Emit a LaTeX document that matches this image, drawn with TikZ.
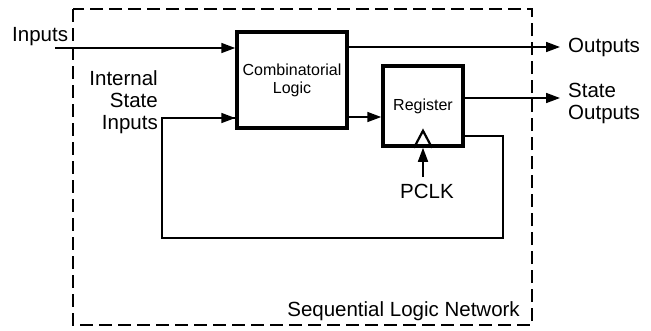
\documentclass[tikz,border=0pt]{standalone}
\usepackage{fontspec}
\setmainfont{Liberation Sans}
\usetikzlibrary{arrows.meta}
\begin{document}
\begin{tikzpicture}[x=1pt,y=-1pt,
  blk/.style={draw, line width=3.5pt, minimum width=#1, inner sep=0pt},
  wire/.style={line width=1.6pt},
  arr/.style={wire, -{Triangle[length=14pt,width=10pt]}},
  big/.style={font=\fontsize{20.5}{22}\selectfont, inner sep=0pt},
  small/.style={font=\fontsize{16}{17}\selectfont, inner sep=0pt}]
\useasboundingbox (0,0) rectangle (651,330);
% dashed frame
\draw[line width=1.6pt, dash pattern=on 13pt off 6pt] (73,9) rectangle (532,325);
% blocks
\node[blk=110pt, minimum height=96pt, align=center, small] (cl) at (292,80) {Combinatorial\\[1pt]Logic};
\node[blk=80pt, minimum height=80pt, small] (reg) at (423,106) {Register};
\draw[line width=2.2pt, line join=miter] ([xshift=-9pt]reg.south) -- ([yshift=17pt]reg.south) -- ([xshift=9pt]reg.south);
% texts
\node[big, anchor=west] (in) at (12,37) {Inputs};
\node[big, anchor=east, align=right] (isi) at (158,102) {Internal\\State\\Inputs};
\node[big, anchor=west] (out) at (568,47) {Outputs};
\node[big, anchor=west, align=left] (sout) at (568,103) {State\\Outputs};
\node[big] (pclk) at (427,191) {PCLK};
\node[big, anchor=east] (sln) at (520,311) {Sequential Logic Network};
% coordinates
\coordinate (inS) at (55,48);
\coordinate (outE) at (560,47);
\coordinate (soutE) at (560,98);
\coordinate (fb1) at (503,136);
\coordinate (fb2) at (503,238);
\coordinate (fb3) at (162,238);
\coordinate (fb4) at (162,118);
\coordinate (clk) at (423,177);
% connectors
\draw[arr] (inS) -- (cl.west |- inS);
\draw[arr] (cl.east |- outE) -- (outE);
\draw[arr] (cl.east |- 0,117) -- (reg.west |- 0,117);
\draw[arr] (reg.east |- soutE) -- (soutE);
\draw[wire] (reg.east |- fb1) -- (fb1) -- (fb2) -- (fb3) -- (fb4) -- (cl.west |- fb4);
\draw[arr] (fb4) -- (cl.west |- fb4);
\draw[arr] (clk) -- (reg.south -| clk);
\end{tikzpicture}
\end{document}
